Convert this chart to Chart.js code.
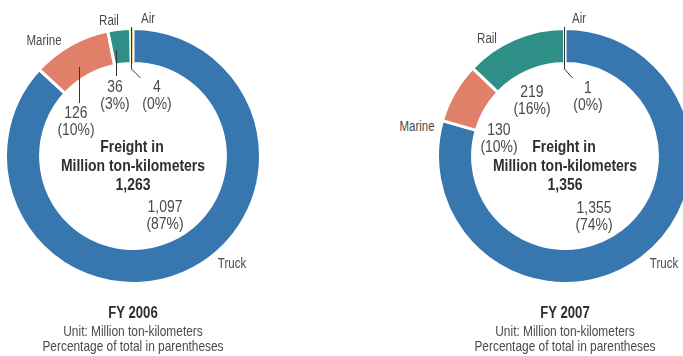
<!DOCTYPE html>
<html>
<head>
<meta charset="utf-8">
<script src="https://cdn.jsdelivr.net/npm/chart.js@4.4.1/dist/chart.umd.min.js"></script>
<style>
  html, body { margin: 0; padding: 0; background: #fff; }
  #stage {
    position: relative; width: 683px; height: 356px; overflow: hidden;
    font-family: "Liberation Sans", Arial, sans-serif;
    color: #4a4a4a;
  }
  #stage canvas { position: absolute; }
  /* narrow face: Liberation Sans squeezed horizontally */
  .lbl { position: absolute; white-space: nowrap; line-height: 1; transform: translate(-50%, -50%) scaleX(0.82); }
  .name { font-size: 14px; }
  .val { font-size: 17px; }
  .center { font-size: 17px; font-weight: bold; color: #2e2e2e; }
  .year { font-size: 16px; font-weight: bold; color: #2e2e2e; }
  .note { font-size: 14.5px; }
</style>
</head>
<body>
<div id="stage">
  <canvas id="chart2006" width="258" height="258"></canvas>
  <canvas id="chart2007" width="258" height="258"></canvas>
</div>
<script>
// Freight by transport mode, million ton-kilometers
const MODES = ['Truck', 'Marine', 'Rail', 'Air'];
const FY2006_VALUES = [1097, 126, 36, 4];
const FY2006_SHARES = [87, 10, 3, 0];
const FY2006_TOTAL = 1263;
const FY2007_VALUES = [1355, 130, 219, 1];
const FY2007_SHARES = [74, 10, 16, 0];
const FY2007_TOTAL = 1356;
const YEARS = ['FY 2006', 'FY 2007'];
const CENTER_TITLE = ['Freight in', 'Million ton-kilometers'];
const NOTES = ['Unit: Million ton-kilometers', 'Percentage of total in parentheses'];

const MODE_COLORS = ['#3776af', '#e08068', '#2e8f87', '#e3d08e'];
const BORDER_WIDTHS = [3, 3, 3, 0];   // air sliver keeps its own width

// label placement per chart (page pixels)
const LAYOUT = [
    {
        cx: 133, cy: 156,
        names: [[232, 263], [44, 40], [109, 20], [148, 18]],
        values: [[165, 206], [76, 112], [115, 86], [157, 86]],
        // leader lines, offsets from the ring centre
        leaders: [
            [[8, -141], [-1.5, -131.5], [-1.5, -87], [7.5, -78]],
            [[-16.5, -106], [-16.5, -80]],
            [[-53.5, -89], [-53.5, -53]]
        ]
    },
    {
        cx: 565, cy: 156,
        names: [[664, 263], [417, 126], [487, 38], [579, 18]],
        values: [[594, 207], [499, 129], [532, 91], [588, 87]],
        leaders: [
            [[7, -141], [-0.5, -133], [-0.5, -87], [7.5, -78]]
        ]
    }
];

const fmt = n => n.toLocaleString('en-US');
const stage = document.getElementById('stage');

function addLabel(text, cls, x, y) {
    const el = document.createElement('div');
    el.className = 'lbl ' + cls;
    el.textContent = text;
    el.style.left = x + 'px';
    el.style.top = y + 'px';
    stage.appendChild(el);
}

const leaderPlugin = {
    id: 'leaders',
    afterDatasetsDraw(chart, args, opts) {
        const arc = chart.getDatasetMeta(0).data[0];
        if (!arc) return;
        const ctx = chart.ctx;
        ctx.save();
        ctx.strokeStyle = '#333';
        ctx.lineWidth = 1;
        (opts.lines || []).forEach(pts => {
            ctx.beginPath();
            pts.forEach(([dx, dy], i) => {
                if (i === 0) ctx.moveTo(arc.x + dx, arc.y + dy);
                else ctx.lineTo(arc.x + dx, arc.y + dy);
            });
            ctx.stroke();
        });
        ctx.restore();
    }
};

function renderDoughnut(id, values, layout) {
    const canvas = document.getElementById(id);
    canvas.style.left = (layout.cx - canvas.width / 2) + 'px';
    canvas.style.top = (layout.cy - canvas.height / 2) + 'px';
    return new Chart(canvas, {
        type: 'doughnut',
        data: {
            labels: MODES,
            datasets: [{
                data: values,
                backgroundColor: MODE_COLORS,
                borderColor: '#ffffff',
                borderWidth: BORDER_WIDTHS
            }]
        },
        options: {
            responsive: false,
            animation: false,
            events: [],
            cutout: '72.5%',
            rotation: 0,
            layout: { padding: 0 },
            plugins: {
                legend: { display: false },
                tooltip: { enabled: false },
                leaders: { lines: layout.leaders }
            }
        },
        plugins: [leaderPlugin]
    });
}

function renderPanel(idx, id, values, shares, total) {
    const lay = LAYOUT[idx];
    renderDoughnut(id, values, lay);

    MODES.forEach((mode, i) => {
        addLabel(mode, 'name', lay.names[i][0], lay.names[i][1]);
        const [vx, vy] = lay.values[i];
        addLabel(fmt(values[i]), 'val', vx, vy);
        addLabel('(' + shares[i] + '%)', 'val', vx, vy + 17);
    });

    addLabel(CENTER_TITLE[0], 'center', lay.cx - 1, lay.cy - 10);
    addLabel(CENTER_TITLE[1], 'center', lay.cx, lay.cy + 9);
    addLabel(fmt(total), 'center', lay.cx, lay.cy + 28);

    addLabel(YEARS[idx], 'year', lay.cx, 313);
    addLabel(NOTES[0], 'note', lay.cx, 331);
    addLabel(NOTES[1], 'note', lay.cx, 346);
}

renderPanel(0, 'chart2006', FY2006_VALUES, FY2006_SHARES, FY2006_TOTAL);
renderPanel(1, 'chart2007', FY2007_VALUES, FY2007_SHARES, FY2007_TOTAL);
</script>
</body>
</html>
